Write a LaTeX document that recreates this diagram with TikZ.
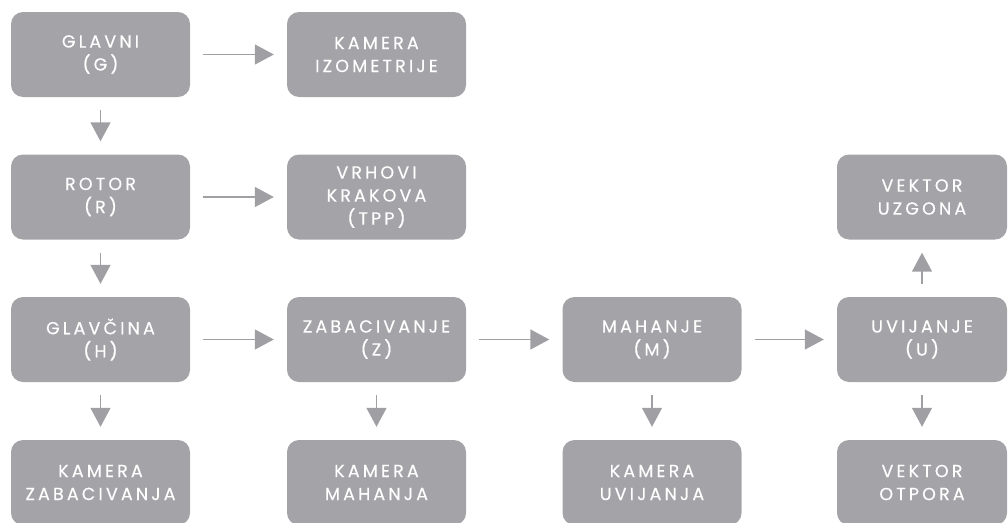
\documentclass[tikz,border=0pt]{standalone}
\usepackage{fontspec}
\setmainfont{Poppins}[LetterSpace=18,FakeBold=0.3]
\usetikzlibrary{arrows.meta}
\definecolor{boxgray}{RGB}{164,164,168}
\definecolor{arrowgray}{RGB}{160,160,164}

\begin{document}
\begin{tikzpicture}[x=1pt,y=1pt,yscale=-1,
  blk/.style={fill=boxgray, rounded corners=12pt, minimum width=179pt, minimum height=85pt,
    inner sep=0pt, text=white, align=center, font=\fontsize{17.5}{23}\selectfont},
  narrowblk/.style={blk, minimum width=170pt},
  flow/.style={draw=arrowgray, line width=1.5pt, -{Triangle[length=19pt,width=20pt]},
    shorten <=13pt, shorten >=13pt}]
\useasboundingbox (0,0) rectangle (1008,522);

% first row
\node [blk] (glavni) at (100.5,54.5) {GLAVNI\\(G)};
\node [blk] (kamizo) at (376.5,54.5) {KAMERA\\IZOMETRIJE};
% second row
\node [blk] (rotor) at (100.5,197) {ROTOR\\(R)};
\node [blk] (vrhovi) at (376.5,197) {VRHOVI\\KRAKOVA\\(TPP)};
\node [narrowblk] (uzgon) at (922,197) {VEKTOR\\UZGONA};
% third row
\node [blk] (glavcina) at (100.5,339.5) {GLAVČINA\\(H)};
\node [blk] (zabac) at (376.5,339.5) {ZABACIVANJE\\(Z)};
\node [blk] (mahanje) at (652,339.5) {MAHANJE\\(M)};
\node [narrowblk] (uvijanje) at (922,339.5) {UVIJANJE\\(U)};
% fourth row
\node [blk] (kamzab) at (100.5,482.5) {KAMERA\\ZABACIVANJA};
\node [blk] (kammah) at (376.5,482.5) {KAMERA\\MAHANJA};
\node [blk] (kamuvi) at (652,482.5) {KAMERA\\UVIJANJA};
\node [narrowblk] (otpor) at (922,482.5) {VEKTOR\\OTPORA};

% connectors
\draw [flow] (glavni) -- (kamizo);
\draw [flow] (glavni) -- (rotor);
\draw [flow] (rotor) -- (vrhovi);
\draw [flow] (rotor) -- (glavcina);
\draw [flow] (glavcina) -- (zabac);
\draw [flow] (zabac) -- (mahanje);
\draw [flow] (mahanje) -- (uvijanje);
\draw [flow] (uvijanje) -- (uzgon);
\draw [flow] (glavcina) -- (kamzab);
\draw [flow] (zabac) -- (kammah);
\draw [flow] (mahanje) -- (kamuvi);
\draw [flow] (uvijanje) -- (otpor);

\end{tikzpicture}
\end{document}
